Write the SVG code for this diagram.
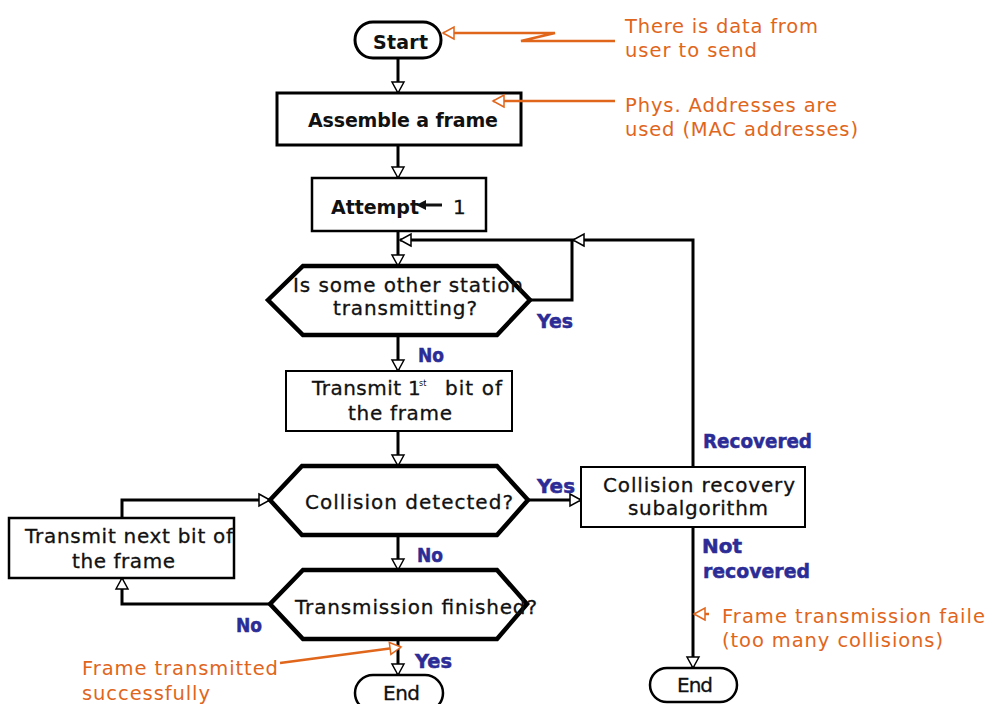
<svg xmlns="http://www.w3.org/2000/svg" width="987" height="704" viewBox="0 0 987 704">
  <defs>
    <style>
      .node { fill: #ffffff; stroke: #000000; }
      .t { font-family: "DejaVu Sans", "Liberation Sans", sans-serif; font-size: 20px; fill: #111111; stroke: #111111; stroke-width: 0.3; }
      .tb { font-family: "DejaVu Sans", "Liberation Sans", sans-serif; font-size: 19px; font-weight: bold; fill: #111111; }
      .sup { font-family: "DejaVu Sans", "Liberation Sans", sans-serif; font-size: 8px; fill: #111111; }
      .lbl { font-family: "DejaVu Sans", "Liberation Sans", sans-serif; font-size: 19px; font-weight: bold; fill: #2c2c96; stroke: #2c2c96; stroke-width: 0.5; }
      .note { font-family: "DejaVu Sans", "Liberation Sans", sans-serif; font-size: 19.5px; fill: #e0661c; }
      .wire { fill: none; stroke: #000000; stroke-width: 3; }
      .nwire { fill: none; stroke: #e0661c; stroke-width: 2.5; }
    </style>
    <marker id="arrow" markerUnits="userSpaceOnUse" markerWidth="16" markerHeight="16" refX="11" refY="6" orient="auto" viewBox="-2 -2 16 16">
      <path d="M0,0 L11,6 L0,12 Z" fill="#ffffff" stroke="#000000" stroke-width="1.5"/>
    </marker>
    <marker id="arrowN" markerUnits="userSpaceOnUse" markerWidth="16" markerHeight="16" refX="11" refY="6" orient="auto" viewBox="-2 -2 16 16">
      <path d="M0,0 L11,6 L0,12 Z" fill="#ffffff" stroke="#e0661c" stroke-width="1.5"/>
    </marker>
  </defs>

  <rect width="987" height="704" fill="#ffffff"/>

  <!-- flow connectors -->
  <g id="connectors">
    <path class="wire" d="M398,58 V93" marker-end="url(#arrow)"/>
    <path class="wire" d="M398,145 V178" marker-end="url(#arrow)"/>
    <path class="wire" d="M398,231 V266" marker-end="url(#arrow)"/>
    <path class="wire" d="M693,467 V240 H573" marker-end="url(#arrow)"/>
    <path class="wire" d="M573,240 H400" marker-end="url(#arrow)"/>
    <path class="wire" d="M530,300 H572 V240"/>
    <path class="wire" d="M398,335 V371" marker-end="url(#arrow)"/>
    <path class="wire" d="M398,431 V466" marker-end="url(#arrow)"/>
    <path class="wire" d="M528,500 H581" marker-end="url(#arrow)"/>
    <path class="wire" d="M398,535 V570" marker-end="url(#arrow)"/>
    <path class="wire" d="M270,604 H122 V578" marker-end="url(#arrow)"/>
    <path class="wire" d="M122,518 V500 H270" marker-end="url(#arrow)"/>
    <path class="wire" d="M398,639 V675" marker-end="url(#arrow)"/>
    <path class="wire" d="M693,527 V668" marker-end="url(#arrow)"/>
  </g>

  <!-- branch labels -->
  <g id="labels">
    <text class="lbl" x="537" y="328" textLength="36" lengthAdjust="spacingAndGlyphs">Yes</text>
    <text class="lbl" x="418" y="362" textLength="26" lengthAdjust="spacingAndGlyphs">No</text>
    <text class="lbl" x="537" y="493" textLength="38" lengthAdjust="spacingAndGlyphs">Yes</text>
    <text class="lbl" x="417" y="562" textLength="26" lengthAdjust="spacingAndGlyphs">No</text>
    <text class="lbl" x="236" y="632" textLength="26" lengthAdjust="spacingAndGlyphs">No</text>
    <text class="lbl" x="415" y="668" textLength="37" lengthAdjust="spacingAndGlyphs">Yes</text>
    <text class="lbl" x="703" y="448" textLength="109" lengthAdjust="spacingAndGlyphs">Recovered</text>
    <text class="lbl" x="702" y="553" textLength="40" lengthAdjust="spacingAndGlyphs">Not</text>
    <text class="lbl" x="703" y="578" textLength="107" lengthAdjust="spacingAndGlyphs">recovered</text>
  </g>

  <g id="start">
    <rect class="node" x="355" y="22" width="86" height="36" rx="18" stroke-width="3"/>
    <text class="tb" x="373" y="49" textLength="55">Start</text>
  </g>

  <g id="assemble">
    <rect class="node" x="277" y="93" width="244" height="52" stroke-width="3"/>
    <text class="tb" x="308" y="127" textLength="190">Assemble a frame</text>
  </g>

  <g id="attempt">
    <rect class="node" x="312" y="178" width="174" height="53" stroke-width="2.5"/>
    <text class="tb" x="331" y="214" textLength="88">Attempt</text>
    <line x1="442" y1="205" x2="424" y2="205" stroke="#111111" stroke-width="3"/>
    <path d="M416,205 L426,200 L426,210 Z" fill="#111111"/>
    <text class="t" x="453" y="214">1</text>
  </g>

  <g id="busy-check">
    <polygon class="node" points="268,300 303,266 497,266 530,300 497,335 303,335" stroke-width="4.5"/>
    <text class="t" x="293" y="292" textLength="230">Is some other station</text>
    <text class="t" x="333" y="315" textLength="144">transmitting?</text>
  </g>

  <g id="first-bit">
    <rect class="node" x="286" y="371" width="226" height="60" stroke-width="2"/>
    <text class="t" x="312" y="395" textLength="89">Transmit</text>
    <text class="t" x="408" y="395">1</text>
    <text class="sup" x="419" y="386">st</text>
    <text class="t" x="445" y="395" textLength="57">bit of</text>
    <text class="t" x="348" y="420" textLength="104">the frame</text>
  </g>

  <g id="collision-check">
    <polygon class="node" points="270,500 302,466 497,466 528,500 497,535 302,535" stroke-width="4.5"/>
    <text class="t" x="305" y="509" textLength="208">Collision detected?</text>
  </g>

  <g id="recovery">
    <rect class="node" x="581" y="467" width="224" height="60" stroke-width="2"/>
    <text class="t" x="603" y="492" textLength="192">Collision recovery</text>
    <text class="t" x="628" y="515" textLength="140">subalgorithm</text>
  </g>

  <g id="next-bit">
    <rect class="node" x="9" y="518" width="225" height="60" stroke-width="2.5"/>
    <text class="t" x="25" y="543" textLength="208">Transmit next bit of</text>
    <text class="t" x="72" y="568" textLength="103">the frame</text>
  </g>

  <g id="finished-check">
    <polygon class="node" points="270,604 303,570 497,570 527,604 497,639 303,639" stroke-width="4.5"/>
    <text class="t" x="295" y="614" textLength="242">Transmission finished?</text>
  </g>

  <g id="end-ok">
    <rect class="node" x="355" y="675" width="88" height="36" rx="18" stroke-width="2.5"/>
    <text class="t" x="383" y="700" textLength="37">End</text>
  </g>

  <g id="end-fail">
    <rect class="node" x="650" y="668" width="87" height="34" rx="17" stroke-width="2.5"/>
    <text class="t" x="677" y="692" textLength="36">End</text>
  </g>

  <!-- side notes, drawn on top of the nodes they point into -->
  <g id="notes">
    <path class="nwire" d="M615,41 H521 L555,33 H443" marker-end="url(#arrowN)"/>
    <path class="nwire" d="M615,101 H493" marker-end="url(#arrowN)"/>
    <path class="nwire" d="M280,663 L401,647" marker-end="url(#arrowN)"/>
    <path class="nwire" d="M709,614 H694" marker-end="url(#arrowN)"/>
    <text class="note" x="625" y="33" textLength="193">There is data from</text>
    <text class="note" x="625" y="57" textLength="132">user to send</text>
    <text class="note" x="625" y="112" textLength="212">Phys. Addresses are</text>
    <text class="note" x="625" y="136" textLength="233">used (MAC addresses)</text>
    <text class="note" x="82" y="675" textLength="196">Frame transmitted</text>
    <text class="note" x="82" y="700" textLength="128">successfully</text>
    <text class="note" x="722" y="623" textLength="263">Frame transmission faile</text>
    <text class="note" x="722" y="647" textLength="221">(too many collisions)</text>
  </g>
</svg>
